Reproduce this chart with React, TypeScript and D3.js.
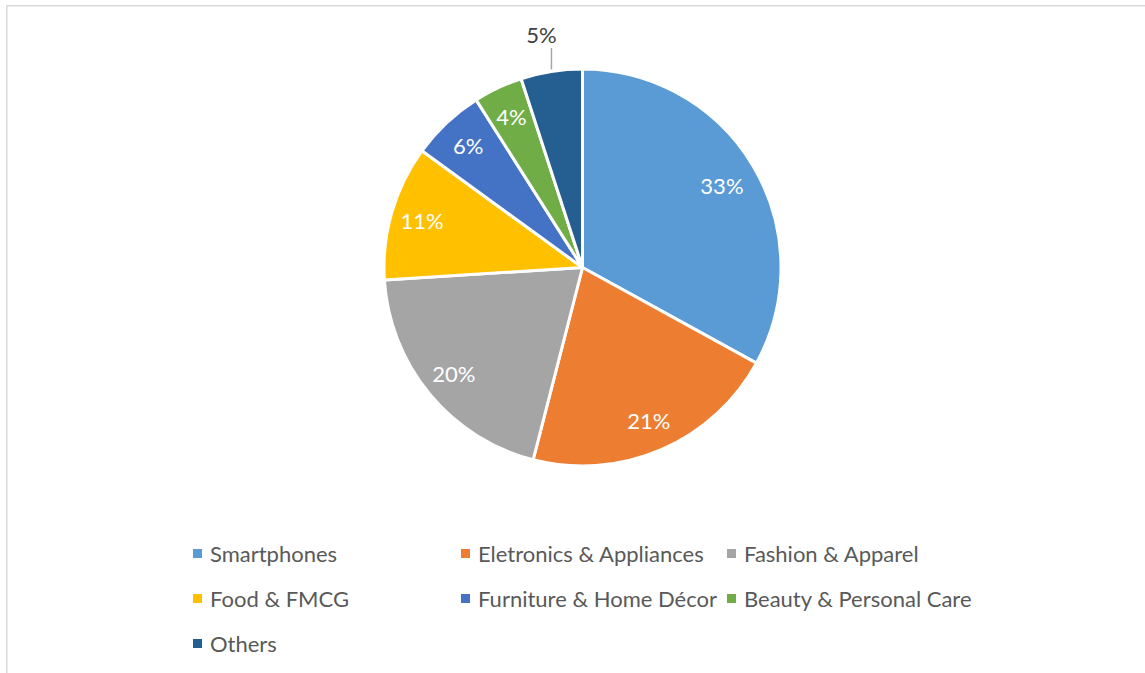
import React from "react";
import * as d3 from "d3";

const categories = [
  "Smartphones",
  "Eletronics & Appliances",
  "Fashion & Apparel",
  "Food & FMCG",
  "Furniture & Home Décor",
  "Beauty & Personal Care",
  "Others",
];
const shares = [33, 21, 20, 11, 6, 4, 5];
const colors = ["#5B9BD5", "#ED7D31", "#A5A5A5", "#FFC000", "#4472C4", "#70AD47", "#255E91"];

const W = 1145;
const H = 673;
const cx = 582.5;
const cy = 267.5;
const R = 198.5;
const FONT = "Lato, 'Open Sans', sans-serif";

export default function App() {
  const pie = d3
    .pie<number>()
    .value((d) => d)
    .sort(null)
    .startAngle(0)
    .endAngle(2 * Math.PI);
  const arcs = pie(shares);
  const arcGen = d3.arc<d3.PieArcDatum<number>>().innerRadius(0).outerRadius(R);
  const labelR = (i: number) => (i === 0 ? 162 : 167);
  const total = d3.sum(shares);

  const legendCols = [193, 461, 727];
  const legendRows = [549, 594, 639];

  return (
    <div style={{ position: "fixed", left: 0, top: 0, width: W, height: H, background: "#fff" }}>
      <svg width={W} height={H} style={{ display: "block" }}>
        <rect x={6.75} y={5.75} width={W + 20} height={H + 20} fill="#fff" stroke="#D9D9D9" strokeWidth={1.5} />
        <g transform={`translate(${cx},${cy})`}>
          {arcs.map((a, i) => (
            <path key={i} d={arcGen(a) || ""} fill={colors[i]} stroke="#fff" strokeWidth={3} strokeLinejoin="round" />
          ))}
          {arcs.map((a, i) => {
            const pct = Math.round((a.data / total) * 100) + "%";
            const mid = (a.startAngle + a.endAngle) / 2;
            if (i === arcs.length - 1) {
              // outside label with leader line
              const ex = Math.sin(mid) * R;
              const ey = -Math.cos(mid) * R;
              const top = -R - 21;
              return (
                <g key={"l" + i}>
                  <line x1={ex} y1={ey - 2} x2={ex} y2={top} stroke="#A6A6A6" strokeWidth={1.5} />
                  <text
                    x={ex - 10}
                    y={top - 5}
                    textAnchor="middle"
                    fontFamily={FONT}
                    fontSize={22}
                    fill="#404040"
                  >
                    {pct}
                  </text>
                </g>
              );
            }
            const lr = labelR(i);
            const lx = Math.sin(mid) * lr;
            const ly = -Math.cos(mid) * lr;
            return (
              <text
                key={"l" + i}
                x={lx}
                y={ly}
                textAnchor="middle"
                dominantBaseline="central"
                fontFamily={FONT}
                fontSize={22}
                fill="#fff"
              >
                {pct}
              </text>
            );
          })}
        </g>
        <g>
          {categories.map((c, i) => {
            const col = i % 3;
            const row = Math.floor(i / 3);
            const x = legendCols[col];
            const y = legendRows[row];
            return (
              <g key={c}>
                <rect x={x} y={y} width={9} height={9} fill={colors[i]} />
                <text
                  x={x + 17}
                  y={y + 4.5}
                  dominantBaseline="central"
                  fontFamily={FONT}
                  fontSize={22}
                  fill="#595959"
                >
                  {c}
                </text>
              </g>
            );
          })}
        </g>
      </svg>
    </div>
  );
}
